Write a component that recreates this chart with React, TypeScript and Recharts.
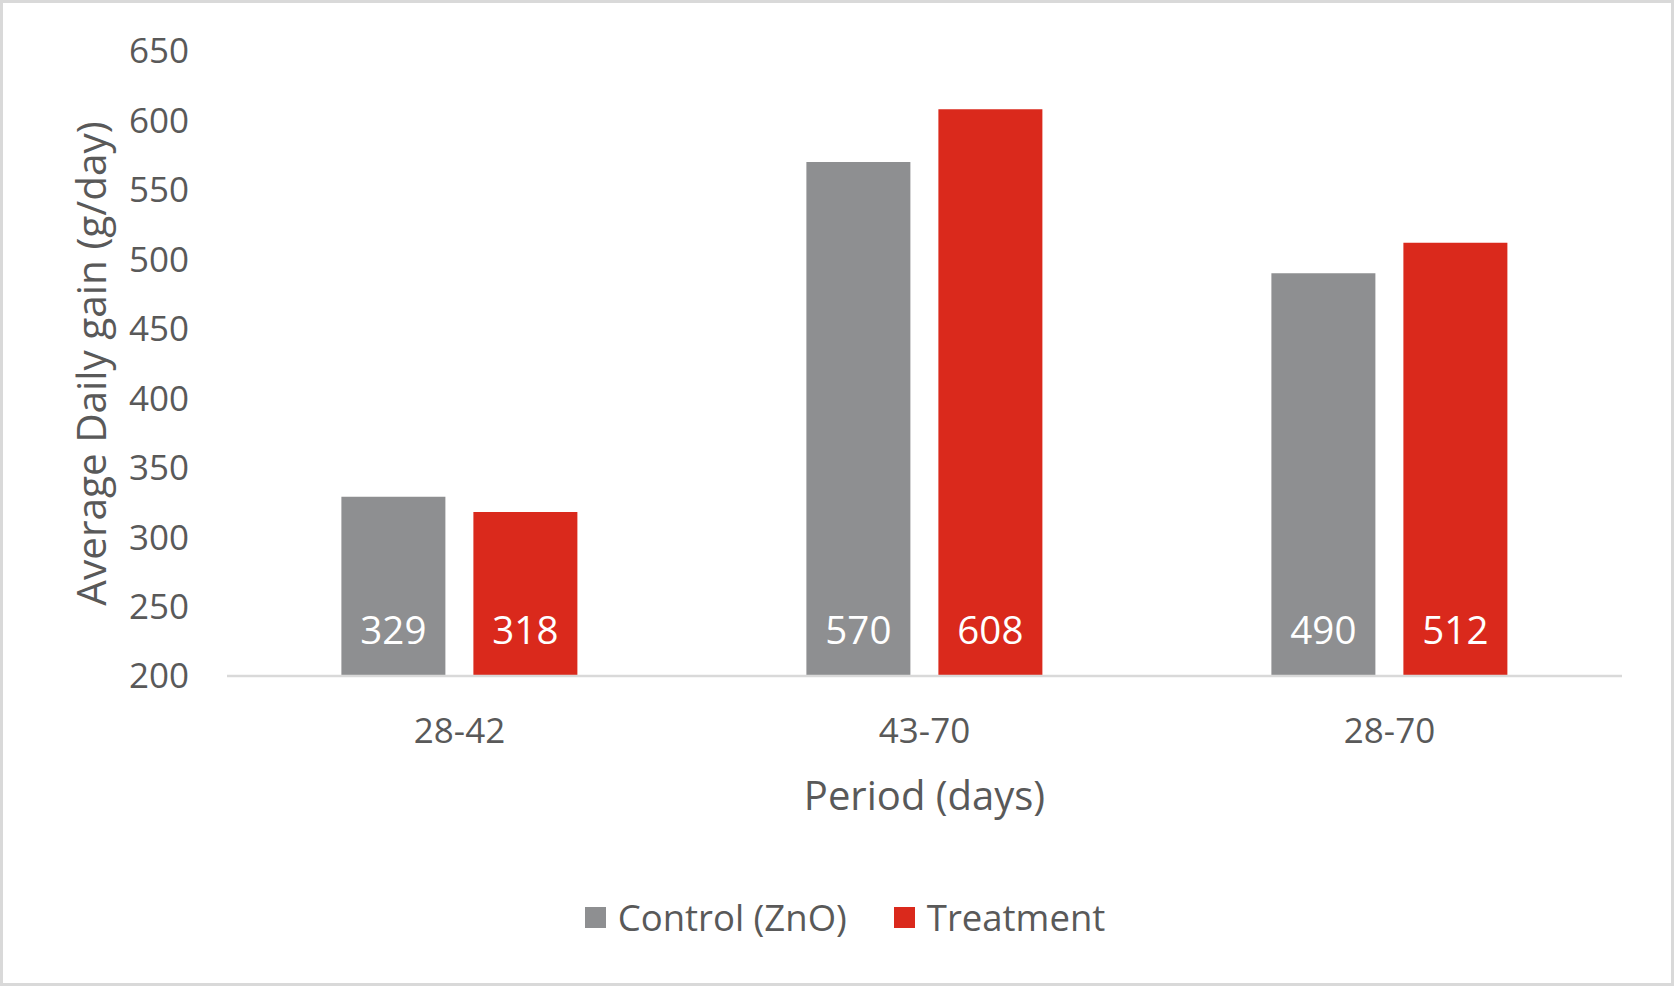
import React from 'react'
import { BarChart, Bar, XAxis, YAxis, Legend, LabelList, Label } from 'recharts'

const periods = ['28-42', '43-70', '28-70']
const controlValues = [329, 570, 490]
const treatmentValues = [318, 608, 512]
const yTicks = [200, 250, 300, 350, 400, 450, 500, 550, 600, 650]

const COLORS = {
  control: '#8e8f91',
  treatment: '#da291c',
  text: '#595959',
  axis: '#d9d9d9'
}

const FONT = '"Open Sans", sans-serif'

const data = periods.map((p, i) => ({
  period: p,
  control: controlValues[i],
  treatment: treatmentValues[i]
}))

function LegendContent({ payload }: any) {
  return (
    <div
      style={{
        display: 'flex',
        justifyContent: 'center',
        alignItems: 'center',
        fontFamily: FONT,
        paddingLeft: 16
      }}
    >
      {(payload || []).map((item: any, i: number) => (
        <div key={i} style={{ display: 'flex', alignItems: 'center', marginRight: i === 0 ? 47 : 0 }}>
          <div style={{ width: 21, height: 21, background: item.color, marginRight: 12 }} />
          <span style={{ fontSize: 36.5, color: COLORS.text, lineHeight: '40px' }}>{item.value}</span>
        </div>
      ))}
    </div>
  )
}

export default function App() {
  return (
    <div style={{ position: 'fixed', left: 0, top: 0, width: 1674, height: 986, background: '#fff' }}>
      <div
        style={{
          position: 'absolute',
          inset: 0,
          border: `3px solid ${COLORS.axis}`,
          boxSizing: 'border-box'
        }}
      />
      <div style={{ position: 'absolute', left: 0, top: 0 }}>
        <BarChart
          width={1674}
          height={986}
          data={data}
          margin={{ top: 51, right: 52, bottom: 160, left: 0 }}
          barCategoryGap="24.6%"
          barGap={28}
        >
          <XAxis
            dataKey="period"
            height={150}
            tickLine={false}
            tickSize={0}
            tickMargin={42}
            axisLine={{ stroke: COLORS.axis, strokeWidth: 2.5 }}
            tick={{ fill: COLORS.text, fontSize: 35, fontFamily: FONT }}
          >
            <Label
              value="Period (days)"
              position="insideBottom"
              offset={16}
              style={{ fill: COLORS.text, fontSize: 40, fontFamily: FONT }}
            />
          </XAxis>
          <YAxis
            width={227}
            domain={[200, 650]}
            ticks={yTicks}
            allowDataOverflow
            axisLine={false}
            tickLine={false}
            tickSize={0}
            tickMargin={38}
            tick={{ fill: COLORS.text, fontSize: 35, fontFamily: FONT }}
          >
            <Label
              content={({ viewBox }: any) => {
                const x = viewBox.x + 106
                const y = viewBox.y + viewBox.height / 2
                return (
                  <text
                    x={x}
                    y={y}
                    transform={`rotate(-90, ${x}, ${y})`}
                    textAnchor="middle"
                    fill={COLORS.text}
                    fontSize={40.5}
                    fontFamily={FONT}
                  >
                    Average Daily gain (g/day)
                  </text>
                )
              }}
            />
          </YAxis>
          <Legend
            layout="horizontal"
            verticalAlign="middle"
            align="center"
            content={<LegendContent />}
            wrapperStyle={{ top: 897, left: 0, width: 1674 }}
          />
          <Bar dataKey="control" name="Control (ZnO)" fill={COLORS.control} isAnimationActive={false}>
            <LabelList
              dataKey="control"
              position="insideBottom"
              offset={32}
              fill="#ffffff"
              style={{ fontSize: 38.5, fontFamily: FONT }}
            />
          </Bar>
          <Bar dataKey="treatment" name="Treatment" fill={COLORS.treatment} isAnimationActive={false}>
            <LabelList
              dataKey="treatment"
              position="insideBottom"
              offset={32}
              fill="#ffffff"
              style={{ fontSize: 38.5, fontFamily: FONT }}
            />
          </Bar>
        </BarChart>
      </div>
    </div>
  )
}
